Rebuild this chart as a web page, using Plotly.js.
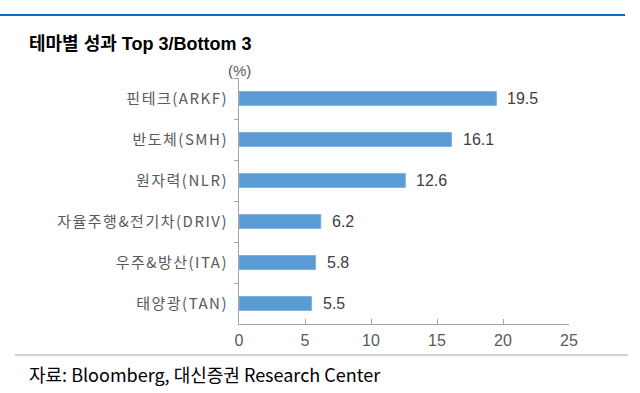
<!DOCTYPE html>
<html>
<head>
<meta charset="utf-8">
<script src="https://cdn.plot.ly/plotly-3.0.1.min.js"></script>
<style>html,body{margin:0;padding:0;background:#fff;}#chart{width:640px;height:393px;}
#chart .ytick text{letter-spacing:1.5px;}</style>
</head>
<body>
<div id="chart"></div>
<script>
var categories = ["핀테크(ARKF)", "반도체(SMH)", "원자력(NLR)", "자율주행&전기차(DRIV)", "우주&방산(ITA)", "태양광(TAN)"];
var values = [19.5, 16.1, 12.6, 6.2, 5.8, 5.5];
var xTicks = [0, 5, 10, 15, 20, 25];

var font = "'Liberation Sans', 'Noto Sans CJK KR', sans-serif";
var cjk = "'Noto Sans CJK KR', sans-serif";

var trace = {
  type: "bar",
  orientation: "h",
  y: categories,
  x: values,
  marker: {color: "#5b9bd5", line: {color: "#7fb2e0", width: 1}},
  hoverinfo: "skip"
};

var valueLabels = values.map(function(v, i){
  return {text: v.toFixed(1), x: v, y: categories[i], xref: "x", yref: "y",
    xanchor: "left", yanchor: "middle", xshift: 9, showarrow: false,
    font: {family: font, size: 16, color: "#404040"}};
});

var layout = {
  width: 640, height: 393,
  margin: {l: 239, r: 71, t: 78, b: 69},
  paper_bgcolor: "#fff", plot_bgcolor: "#fff",
  showlegend: false,
  bargap: 0.66,
  font: {family: font, color: "#595959"},
  xaxis: {
    range: [0, 25], tickvals: xTicks, ticktext: xTicks.map(String),
    showgrid: false, zeroline: false,
    showline: true, linecolor: "#a6a6a6", linewidth: 1,
    ticks: "inside", ticklen: 5, tickcolor: "#a6a6a6",
    tickfont: {family: font, size: 16, color: "#595959"},
    ticklabelstandoff: 2,
    fixedrange: true
  },
  yaxis: {
    autorange: "reversed", type: "category",
    showgrid: false, zeroline: false,
    showline: true, linecolor: "#a6a6a6", linewidth: 1,
    ticks: "outside", tickson: "boundaries", ticklen: 4, tickcolor: "#a6a6a6",
    tickfont: {family: cjk, size: 15, color: "#595959"},
    ticklabelstandoff: 7,
    fixedrange: true
  },
  shapes: [
    {type: "line", xref: "paper", yref: "paper", x0: -239/330, x1: (625-239)/330, y0: 1 + (78-15)/246, y1: 1 + (78-15)/246, line: {color: "#0a6fc2", width: 2}},
    {type: "line", xref: "paper", yref: "paper", x0: -224/330, x1: (628-239)/330, y0: -(355-324)/246, y1: -(355-324)/246, line: {color: "#a6a6a6", width: 1}}
  ],
  annotations: [
    {text: "<b>테마별 성과 Top 3/Bottom 3</b>", xref: "paper", yref: "paper", x: -212/330, y: 1 + (78-44)/246, xanchor: "left", yanchor: "middle", showarrow: false, font: {family: font, size: 18, color: "#000"}},
    {text: "(%)", xref: "paper", yref: "paper", x: 0, y: 1 + (78-70)/246, xanchor: "center", yanchor: "middle", showarrow: false, font: {family: font, size: 15, color: "#595959"}},
    {text: "자료: Bloomberg, 대신증권 Research Center", xref: "paper", yref: "paper", x: -212/330, y: -(374-324)/246, xanchor: "left", yanchor: "middle", showarrow: false, font: {family: cjk, size: 18, color: "#000"}}
  ].concat(valueLabels)
};

Plotly.newPlot("chart", [trace], layout, {displayModeBar: false, staticPlot: true});
</script>
</body>
</html>
